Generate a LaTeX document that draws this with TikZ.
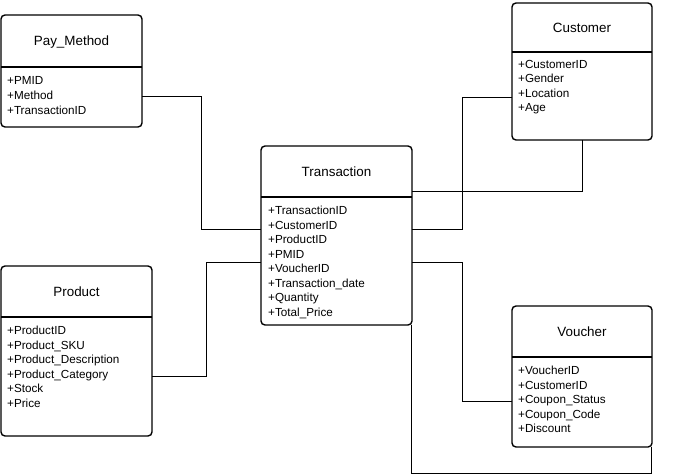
\documentclass[tikz,border=0pt]{standalone}
\usepackage{fontspec}
\setmainfont{Liberation Sans}
% class box: name, x, y, width, height, header height, title
\newcommand\umlbox[7]{%
  \node[classbox, anchor=north west, minimum width=#4pt, minimum height=#5pt] (#1) at (#2,#3) {};
  \draw[sepline] (#1.west |- 0,#3+#6) -- (#1.east |- 0,#3+#6);
  \node[classtitle, anchor=base] (#1-title) at (#2+#4/2, #3+#6/2+5) {#7};
}
% attribute rows: name, x, first baseline, list
\newcommand\umlattrs[4]{%
  \foreach \t [count=\i from 0] in {#4} {
    \node[attr, anchor=base west] (#1-\i) at (#2, #3+14.5*\i) {\t};
  }
}
\begin{document}
\begin{tikzpicture}[x=1pt,y=-1pt,
  classbox/.style={draw=black, line width=1.4pt, rounded corners=4pt, fill=white, inner sep=0pt, outer sep=0pt},
  sepline/.style={draw=black, line width=1.4pt},
  classtitle/.style={font=\fontsize{13.4}{16}\selectfont, inner sep=0pt},
  attr/.style={font=\fontsize{11.7}{14}\selectfont, inner sep=0pt},
  link/.style={draw=black, line width=0.9pt}]
\useasboundingbox (0,0) rectangle (682,476);

% classes
\umlbox{pay}{1}{15}{141}{112}{52}{Pay\_Method}
\umlattrs{pay}{7}{85}{+PMID,+Method,+TransactionID}

\umlbox{trans}{261}{146}{151}{179}{51}{Transaction}
\umlattrs{trans}{268}{214.5}{+TransactionID,+CustomerID,+ProductID,+PMID,+VoucherID,+Transaction\_date,+Quantity,+Total\_Price}

\umlbox{cust}{512}{3}{140}{137}{49}{Customer}
\umlattrs{cust}{518}{68.3}{+CustomerID,+Gender,+Location,+Age}

\umlbox{prod}{1}{266}{151}{170}{51}{Product}
\umlattrs{prod}{7}{334.5}{+ProductID,+Product\_SKU,+Product\_Description,+Product\_Category,+Stock,+Price}

\umlbox{vouch}{512}{306}{140}{141}{51}{Voucher}
\umlattrs{vouch}{518}{374.5}{+VoucherID,+CustomerID,+Coupon\_Status,+Coupon\_Code,+Discount}

% connectors between the classes (orthogonal, no arrow heads)
\coordinate (loop) at (vouch.south east |- 0,473);
\begin{scope}[on background layer/.try]
\draw[link] (pay.east |- 0,96) -- (201,96) |- (trans.west |- 0,229);
\draw[link] (prod.east |- 0,376) -- (206,376) |- (trans.west |- 0,262);
\draw[link] (cust.west |- 0,97) -- (462,97) |- (trans.east |- 0,229);
\draw[link] (cust.south -| 582,0) |- (trans.east |- 0,191);
\draw[link] (vouch.west |- 0,401) -- (462,401) |- (trans.east |- 0,262);
\draw[link] (trans.south east) ++(-0.5,0) |- ([xshift=-1pt]loop) -- ([xshift=-1pt]vouch.south east);
\end{scope}
\end{tikzpicture}
\end{document}
